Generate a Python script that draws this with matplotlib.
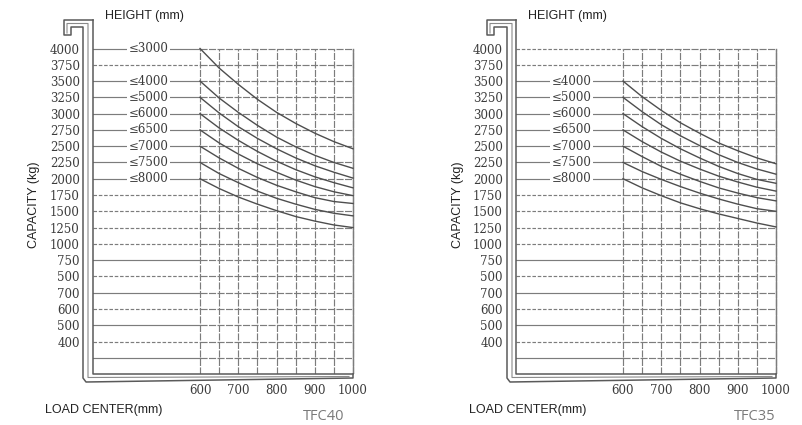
import numpy as np
import matplotlib
matplotlib.use("Agg")
import matplotlib.pyplot as plt
from matplotlib.lines import Line2D

# ---------------- data ----------------
load_center = [600, 650, 700, 750, 800, 850, 900, 950, 1000]
x_ticks = [600, 700, 800, 900, 1000]
x_tick_labels = ["600", "700", "800", "900", "1000"]

# capacity rows (equally spaced, 250 kg steps in plot units)
row_values = [4000 - 250 * i for i in range(20)]
row_labels = ["4000", "3750", "3500", "3250", "3000", "2750", "2500", "2250",
              "2000", "1750", "1500", "1250", "1000", "750", "500", "700",
              "600", "500", "400", ""]

# TFC40 curves (kg at each load center)
tfc40_heights = ["≤3000", "≤4000", "≤5000", "≤6000", "≤6500", "≤7000", "≤7500", "≤8000"]
tfc40_rows = [0, 2, 3, 4, 5, 6, 7, 8]
tfc40_curves = [
    [4000, 3700, 3450, 3220, 3020, 2850, 2700, 2570, 2460],
    [3500, 3240, 3020, 2820, 2640, 2490, 2360, 2250, 2160],
    [3250, 3010, 2800, 2620, 2460, 2320, 2200, 2100, 2010],
    [3000, 2780, 2590, 2420, 2270, 2140, 2030, 1940, 1860],
    [2750, 2550, 2380, 2230, 2100, 1980, 1880, 1800, 1740],
    [2500, 2320, 2160, 2020, 1900, 1800, 1710, 1650, 1620],
    [2250, 2080, 1940, 1810, 1700, 1610, 1530, 1470, 1430],
    [2000, 1850, 1720, 1610, 1510, 1420, 1350, 1290, 1250],
]

# TFC35 curves
tfc35_heights = ["≤4000", "≤5000", "≤6000", "≤6500", "≤7000", "≤7500", "≤8000"]
tfc35_rows = [2, 3, 4, 5, 6, 7, 8]
tfc35_curves = [
    [3500, 3260, 3050, 2860, 2700, 2550, 2430, 2320, 2230],
    [3250, 3030, 2830, 2660, 2510, 2370, 2250, 2150, 2070],
    [3000, 2800, 2620, 2460, 2320, 2190, 2080, 1990, 1930],
    [2750, 2570, 2410, 2270, 2150, 2040, 1950, 1870, 1810],
    [2500, 2340, 2190, 2070, 1960, 1860, 1780, 1710, 1660],
    [2250, 2110, 1990, 1880, 1780, 1690, 1610, 1540, 1500],
    [2000, 1860, 1740, 1630, 1540, 1460, 1390, 1320, 1260],
]

solid_rows_extra = [13, 15, 17, 19]   # unlabeled rows drawn solid

W, H = 802, 425
fig = plt.figure(figsize=(W / 100, H / 100), dpi=100)
fig.patch.set_facecolor("white")

GRID = "#7c7c7c"
INK = "#3c3c3c"
SERIF = "DejaVu Serif"
SANS = "Liberation Sans"

Y0 = 48.5           # pixel row of 4000
KY = 16.28 / 250    # px per kg step


def fig_line(xs, ys, **kw):
    fig.add_artist(Line2D([x / W for x in xs], [1 - y / H for y in ys],
                          transform=fig.transFigure, **kw))


def draw_chart(x600, sx, mast, hook_left, curves, heights, label_rows, name, name_x):
    m1, m2, m3 = mast
    x_right_px = x600 + 400 * sx + 8
    top_px = 40
    bot_px = Y0 + 5000 * KY
    ax = fig.add_axes([m3 / W, 1 - bot_px / H, (x_right_px - m3) / W, (bot_px - top_px) / H])
    ax.set_xlim(600 + (m3 - x600) / sx, 600 + (x_right_px - x600) / sx)
    ax.set_ylim(-1000, 4000 + (Y0 - top_px) / KY)
    for s in ax.spines.values():
        s.set_visible(False)
    x_left = ax.get_xlim()[0]

    # horizontal rows
    for i, v in enumerate(row_values):
        solid = (i in label_rows) or (i in solid_rows_extra)
        if solid:
            ax.plot([x_left, 600], [v, v], color=GRID, lw=0.85)
        else:
            ax.plot([x_left, 600], [v, v], color=GRID, lw=0.85, dashes=(3, 1.5))
        ax.plot([600, 1000], [v, v], color=GRID, lw=0.85, dashes=(6, 1.2))

    # vertical grid
    for x in load_center:
        ax.plot([x, x], [-1000, 4000], color=GRID, lw=0.85, dashes=(6, 1.2))
    ax.plot([1000, 1000], [-1000, 4000], color=GRID, lw=1.0)

    # height labels
    for r, t in zip(label_rows, heights):
        ax.text(465, row_values[r], t, ha="center", va="center", fontsize=8.5,
                family=SERIF, color=INK,
                bbox=dict(boxstyle="square,pad=0.15", fc="white", ec="none"))

    # capacity curves
    for c in curves:
        ax.plot(load_center, c, color="#4e4e4e", lw=1.0)

    ax.set_yticks(row_values, row_labels)
    ax.set_xticks(x_ticks, x_tick_labels)
    ax.tick_params(axis="y", length=0, pad=9.5, labelsize=8.5, labelcolor=INK)
    ax.tick_params(axis="x", length=0, pad=7, labelsize=8.5, labelcolor=INK)
    for lab in ax.get_xticklabels() + ax.get_yticklabels():
        lab.set_family(SERIF)

    # fork / mast outline
    tip = x600 + 400 * sx
    fig_line([m3, hook_left, hook_left, hook_left + 7, hook_left + 7, m1, m1, m1 + 3, tip, tip],
             [20, 20, 35, 35, 27, 27, 378, 382, 378, bot_px],
             color="#5a5a5a", lw=1.1)
    fig_line([m3, m3, tip], [20, bot_px, bot_px], color="#5a5a5a", lw=1.1)
    fig_line([hook_left + 3, hook_left + 3, m2, m2, tip - 4],
             [33, 23.5, 23.5, 377.5, 376.5], color="#8a8a8a", lw=0.8)

    # axis titles
    fig.text((m3 + 12) / W, 1 - 16 / H, "HEIGHT (mm)", fontsize=9, family=SANS,
             color="#222222", va="center", ha="left")
    fig.text((m1 - 49) / W, 1 - 205 / H, "CAPACITY (kg)", fontsize=9, family=SANS,
             color="#222222", rotation=90, ha="center", va="center")
    fig.text((m1 - 38) / W, 1 - 410 / H, "LOAD CENTER(mm)", fontsize=9, family=SANS,
             color="#222222", va="center", ha="left")
    fig.text(name_x / W, 1 - 416 / H, name, fontsize=10.5, family="Open Sans",
             color="#7a7a7a", ha="center", va="center")
    return ax


draw_chart(200, 0.3825, (83, 88, 93), 64, tfc40_curves, tfc40_heights, tfc40_rows, "TFC40", 324)
draw_chart(623, 0.3825, (507, 512, 516), 487, tfc35_curves, tfc35_heights, tfc35_rows, "TFC35", 755)

fig.savefig("out.png", dpi=100, facecolor="white")
